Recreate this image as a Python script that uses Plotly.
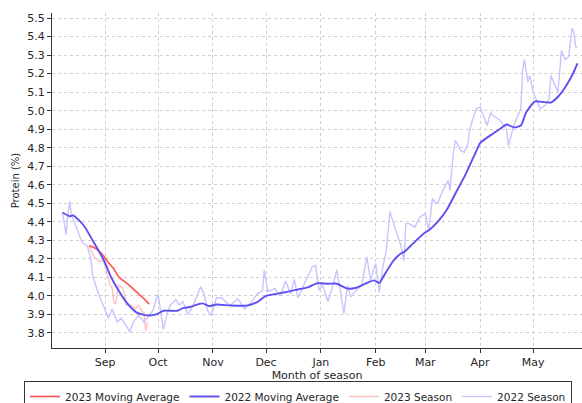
import pandas as pd
import plotly.graph_objects as go

# Season axis: every series is plotted against days since 1 August of the season
AXIS_ORIGIN = pd.Timestamp("2022-08-01")

# 2022 season, daily protein readings (day of season, %)
season_2022_day = [7, 9, 10, 11, 12, 15, 18, 21, 23, 24, 27, 30, 33, 35, 38, 40, 43, 45, 47, 50,
                   53, 56, 58, 61, 64, 66, 68, 71, 73, 75, 78, 81, 85, 87, 89, 91, 94, 97, 100, 102,
                   106, 110, 113, 117, 120, 121, 123, 127, 130, 133, 136, 138, 140, 142, 144, 148,
                   150, 152, 154, 157, 160, 162, 164, 166, 168, 170, 173, 176, 179, 181, 184, 186,
                   188, 190, 192, 194, 196, 198, 200, 201, 203, 206, 209, 212, 214, 216, 218, 219,
                   222, 225, 226, 228, 229, 232, 234, 236, 237, 239, 241, 243, 245, 247, 249, 250,
                   254, 258, 259, 260, 262, 266, 267, 268, 270, 271, 273, 275, 277, 280, 282, 283,
                   285, 287, 289, 291, 293, 295, 296, 297, 298]
season_2022_protein = [4.45, 4.33, 4.44, 4.51, 4.44, 4.36, 4.29, 4.27, 4.20, 4.11, 4.02, 3.95, 3.88,
                       3.93, 3.86, 3.88, 3.84, 3.805, 3.86, 3.895, 3.86, 3.895, 3.92, 4.01, 3.82,
                       3.90, 3.95, 3.98, 3.95, 3.97, 3.90, 3.95, 4.05, 4.01, 3.92, 3.895, 3.99, 3.99,
                       3.96, 3.95, 3.985, 3.93, 3.96, 4.01, 4.03, 4.14, 4.025, 4.04, 4.00, 4.08,
                       4.01, 4.09, 3.99, 4.03, 4.075, 4.155, 4.165, 4.03, 4.06, 3.97, 4.065, 4.14,
                       4.03, 3.905, 4.055, 3.995, 4.03, 4.055, 4.21, 4.085, 4.175, 4.02, 4.155,
                       4.245, 4.455, 4.39, 4.335, 4.28, 4.19, 4.39, 4.39, 4.37, 4.425, 4.445, 4.355,
                       4.525, 4.50, 4.50, 4.57, 4.625, 4.57, 4.785, 4.84, 4.785, 4.775, 4.82, 4.89,
                       4.96, 5.01, 5.02, 4.975, 4.92, 4.99, 4.975, 4.95, 4.90, 4.81, 4.85, 4.92,
                       5.01, 5.21, 5.275, 5.155, 5.19, 5.10, 5.055, 5.01, 5.03, 5.065, 5.19, 5.14,
                       5.10, 5.325, 5.275, 5.29, 5.445, 5.425, 5.345, 5.345]

# 2022 moving average
ma_2022_day = [7, 11, 13, 19, 24, 30, 34, 38, 43, 49, 55, 60, 64, 72, 75, 79, 86, 90, 94, 102,
               111, 117, 122, 133, 140, 146, 151, 157, 162, 168, 173, 180, 183, 186, 188, 194,
               198, 200, 205, 211, 214, 219, 224, 230, 235, 241, 243, 249, 254, 258, 262, 266,
               269, 274, 278, 283, 287, 292, 296, 298]
ma_2022_protein = [4.45, 4.43, 4.435, 4.38, 4.30, 4.20, 4.11, 4.04, 3.967, 3.91, 3.895, 3.90,
                   3.92, 3.92, 3.934, 3.94, 3.96, 3.945, 3.954, 3.948, 3.948, 3.967, 4.00, 4.02,
                   4.035, 4.048, 4.069, 4.066, 4.066, 4.04, 4.044, 4.075, 4.084, 4.07, 4.10, 4.19,
                   4.228, 4.237, 4.282, 4.336, 4.354, 4.40, 4.462, 4.57, 4.66, 4.786, 4.825,
                   4.868, 4.90, 4.925, 4.91, 4.92, 4.99, 5.05, 5.047, 5.044, 5.075, 5.14, 5.21,
                   5.255]

# 2023 season so far, daily readings
season_2023_day = [22, 23, 25, 28, 30, 32, 34, 35, 36, 37, 38, 39, 41, 42, 43, 46, 48, 50, 52,
                   53, 54, 55]
season_2023_protein = [4.27, 4.245, 4.21, 4.185, 4.195, 4.13, 4.055, 4.045, 3.965, 3.96, 4.02,
                       4.06, 4.04, 4.01, 3.95, 3.95, 3.93, 3.95, 3.915, 3.91, 3.81, 3.86]

# 2023 moving average
ma_2023_day = [22, 25, 29, 33, 36, 39, 41, 45, 49, 53, 56]
ma_2023_protein = [4.27, 4.26, 4.23, 4.18, 4.145, 4.10, 4.085, 4.055, 4.02, 3.985, 3.955]


def to_axis(days):
    return [AXIS_ORIGIN + pd.Timedelta(days=d) for d in days]


FONT = "DejaVu Sans"
TEXT = "#262626"

fig = go.Figure()
# background season traces first so the averages sit on top
fig.add_trace(go.Scatter(x=to_axis(season_2023_day), y=season_2023_protein, mode="lines",
                         name="2023 Season", line=dict(color="#ffc0c0", width=1.4),
                         legendrank=3))
fig.add_trace(go.Scatter(x=to_axis(season_2022_day), y=season_2022_protein, mode="lines",
                         name="2022 Season", line=dict(color="#c9c4ff", width=1.4),
                         legendrank=4))
fig.add_trace(go.Scatter(x=to_axis(ma_2023_day), y=ma_2023_protein, mode="lines",
                         name="2023 Moving Average",
                         line=dict(color="#ff5a5a", width=1.7, shape="spline", smoothing=0.6),
                         legendrank=1))
fig.add_trace(go.Scatter(x=to_axis(ma_2022_day), y=ma_2022_protein, mode="lines",
                         name="2022 Moving Average",
                         line=dict(color="#5d4ff0", width=1.9, shape="spline", smoothing=0.6),
                         legendrank=2))

grid = dict(showgrid=True, gridcolor="#cfcfcf", griddash="dot", gridwidth=1)

fig.update_layout(
    width=582, height=403,
    # fixed margins: the legend box is allowed to run past the bottom edge
    margin=dict(l=52, r=0, t=13, b=55, autoexpand=False),
    paper_bgcolor="white", plot_bgcolor="white",
    font=dict(family=FONT, size=11, color=TEXT),
    xaxis=dict(
        type="date",
        range=["2022-08-02 01:00", "2023-05-28 14:00"],
        dtick="M1", tick0="2022-09-01", tickformat="%b",
        ticks="outside", ticklen=4, tickcolor="#333",
        showline=True, linecolor="#333", linewidth=1,
        zeroline=False,
        title=dict(text="Month of season", font=dict(size=11), standoff=0),
        **grid,
    ),
    yaxis=dict(
        range=[3.719, 5.527],
        dtick=0.1, tick0=3.8, tickformat=".1f",
        ticks="outside", ticklen=4, tickcolor="#333",
        showline=True, linecolor="#333", linewidth=1,
        zeroline=False,
        title=dict(text="Protein (%)", font=dict(size=10), standoff=5),
        **grid,
    ),
    legend=dict(
        orientation="h",
        x=-0.0528, xanchor="left",
        y=-0.0985, yanchor="top",
        bordercolor="#333", borderwidth=1, bgcolor="white",
        font=dict(size=10.5),
        traceorder="normal",
    ),
    showlegend=True,
)

fig.write_html("out.html")
